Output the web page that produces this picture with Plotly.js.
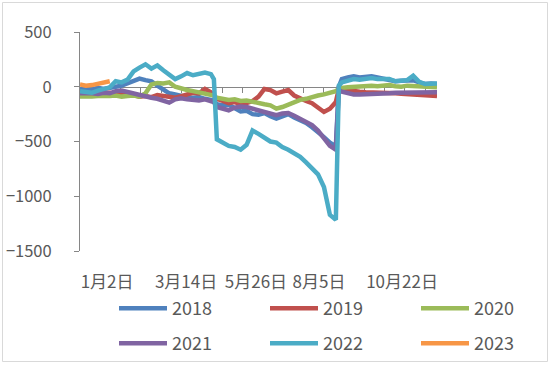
<!DOCTYPE html>
<html>
<head>
<meta charset="utf-8">
<script src="https://cdn.plot.ly/plotly-3.0.1.min.js"></script>
<style>
html,body{margin:0;padding:0;background:#fff;}
#chart{width:550px;height:365px;}
</style>
</head>
<body>
<div id="chart"></div>
<script>
// trading-day index along the year
const dayIndex = [0,4,8,12,16,20,24,28,32,36,40,44,48,52,56,60,64,68,72,76,80,84,88,90,
  92,96,100,104,108,112,116,120,124,128,132,136,140,144,148,152,156,160,164,168,172,174,
  176,180,184,188,192,196,200,204,208,212,216,220,224,228,232,236,240];

const tickPositions = [18.2, 71.3, 118.3, 160.7, 216.5];
const tickLabels = ["1月2日", "3月14日", "5月26日", "8月5日", "10月22日"];

const seriesNames = ["2018", "2019", "2020", "2021", "2022", "2023"];
const seriesColors = ["#4F81BD", "#C0504D", "#9BBB59", "#8064A2", "#4BACC6", "#F79646"];

const v2018 = [-20,-30,-25,-10,-20,-5,0,10,30,60,75,60,50,10,-30,-60,-70,-85,-95,-100,-95,-110,-120,-125,
  -160,-170,-165,-190,-225,-220,-250,-255,-240,-270,-290,-270,-250,-280,-300,-330,-370,-410,-460,-510,-545,0,
  70,85,95,85,90,95,85,75,65,50,55,55,60,40,25,30,25];
const v2019 = [-60,-65,-60,-70,-60,-55,-65,-70,-60,-80,-90,-85,-95,-75,-85,-90,-100,-85,-65,-55,-60,-20,-50,-80,
  -110,-130,-150,-140,-160,-150,-130,-90,-20,-30,-60,-45,-30,-80,-110,-130,-150,-190,-230,-200,-140,-20,
  -25,-35,-40,-45,-50,-50,-55,-55,-60,-60,-65,-70,-70,-75,-80,-80,-85];
const v2020 = [-90,-95,-90,-85,-90,-85,-80,-90,-85,-80,-90,-60,20,35,30,40,0,-20,-30,-40,-50,-60,-70,-80,
  -100,-110,-120,-115,-130,-125,-140,-150,-160,-170,-200,-185,-160,-140,-120,-110,-90,-80,-70,-60,-40,-20,
  -10,-5,0,5,0,10,5,10,15,5,0,10,5,0,-5,-5,-5];
const v2021 = [-60,-55,-60,-65,-55,-60,-40,-35,-50,-60,-75,-90,-100,-110,-125,-145,-115,-105,-115,-120,-125,-115,-130,-140,
  -185,-205,-215,-190,-180,-185,-200,-215,-235,-250,-260,-245,-240,-265,-290,-320,-350,-400,-470,-540,-575,-30,
  -45,-60,-70,-70,-70,-65,-65,-60,-60,-55,-55,-50,-50,-50,-45,-50,-50];
const v2022 = [-40,-45,-55,-35,-15,-5,50,40,65,140,175,205,165,195,150,105,70,95,125,105,120,130,115,70,
  -480,-510,-540,-550,-575,-530,-400,-430,-465,-500,-510,-550,-575,-605,-640,-690,-740,-800,-915,-1170,-1215,10,
  40,55,70,65,75,80,70,65,70,50,55,60,100,45,25,30,30];
const v2023 = [20,10,15,25,35,50];

const seriesValues = [v2018, v2019, v2020, v2021, v2022, v2023];
const legendIds = ["legend", "legend2", "legend3", "legend4", "legend5", "legend6"];

const traces = seriesValues.map((vals, i) => ({
  type: "scatter",
  mode: "lines",
  name: seriesNames[i],
  x: dayIndex.slice(0, vals.length),
  y: vals,
  xaxis: i === 5 ? "x2" : "x",
  yaxis: "y",
  line: {color: seriesColors[i], width: 4.5},
  legend: legendIds[i],
  hoverinfo: "skip"
}));

const L = 80, R = 113, T = 32, B = 114;
const W = 550, H = 365;
const pw = W - L - R, ph = H - T - B;
const px = v => (v - L) / pw;
const py = v => (H - B - v) / ph;

const FONT = "Noto Sans CJK SC, Noto Sans, sans-serif";
const legendCols = [114, 265, 416];
const legendRows = [308.5, 343.5];

const layout = {
  width: W, height: H,
  margin: {l: L, r: R, t: T, b: B, pad: 0, autoexpand: false},
  paper_bgcolor: "#ffffff",
  plot_bgcolor: "#ffffff",
  font: {family: FONT, size: 16, color: "#595959"},
  showlegend: true,
  xaxis: {
    range: [0, 240],
    anchor: "free",
    position: 0.75,
    showline: true, linecolor: "#868686", linewidth: 1,
    ticks: "outside", ticklen: 5, tickcolor: "#868686", tickwidth: 1,
    tickmode: "linear", tick0: 0, dtick: 13.65,
    showticklabels: false, showgrid: false, zeroline: false,
    layer: "below traces", fixedrange: true
  },
  xaxis2: {
    range: [0, 240],
    overlaying: "x", anchor: "y", side: "bottom",
    showline: false, ticks: "", showgrid: false, zeroline: false,
    tickmode: "array", tickvals: tickPositions, ticktext: tickLabels,
    ticklabelstandoff: 19,
    tickfont: {size: 17, color: "#595959"},
    fixedrange: true
  },
  yaxis: {
    range: [-1500, 500],
    tickmode: "linear", tick0: -1500, dtick: 500,
    showline: true, linecolor: "#868686", linewidth: 1,
    ticks: "outside", ticklen: 5, tickcolor: "#868686",
    ticklabelstandoff: 19,
    showgrid: false, zeroline: false,
    tickfont: {size: 16.5, color: "#595959"},
    fixedrange: true
  },
  shapes: [{
    type: "rect", xref: "paper", yref: "paper",
    x0: px(2.5), x1: px(547.5), y0: py(361.5), y1: py(2.5),
    line: {color: "#d9d9d9", width: 1}, fillcolor: "rgba(0,0,0,0)", layer: "below"
  }]
};

legendIds.forEach((id, i) => {
  layout[id] = {
    orientation: "h",
    x: px(legendCols[i % 3]),
    y: py(legendRows[Math.floor(i / 3)]),
    xanchor: "left",
    yanchor: "middle",
    itemwidth: 48,
    font: {size: 18, color: "#595959", family: FONT},
    bgcolor: "rgba(0,0,0,0)",
    borderwidth: 0
  };
});

Plotly.newPlot("chart", traces, layout, {staticPlot: true, displayModeBar: false});
</script>
</body>
</html>
